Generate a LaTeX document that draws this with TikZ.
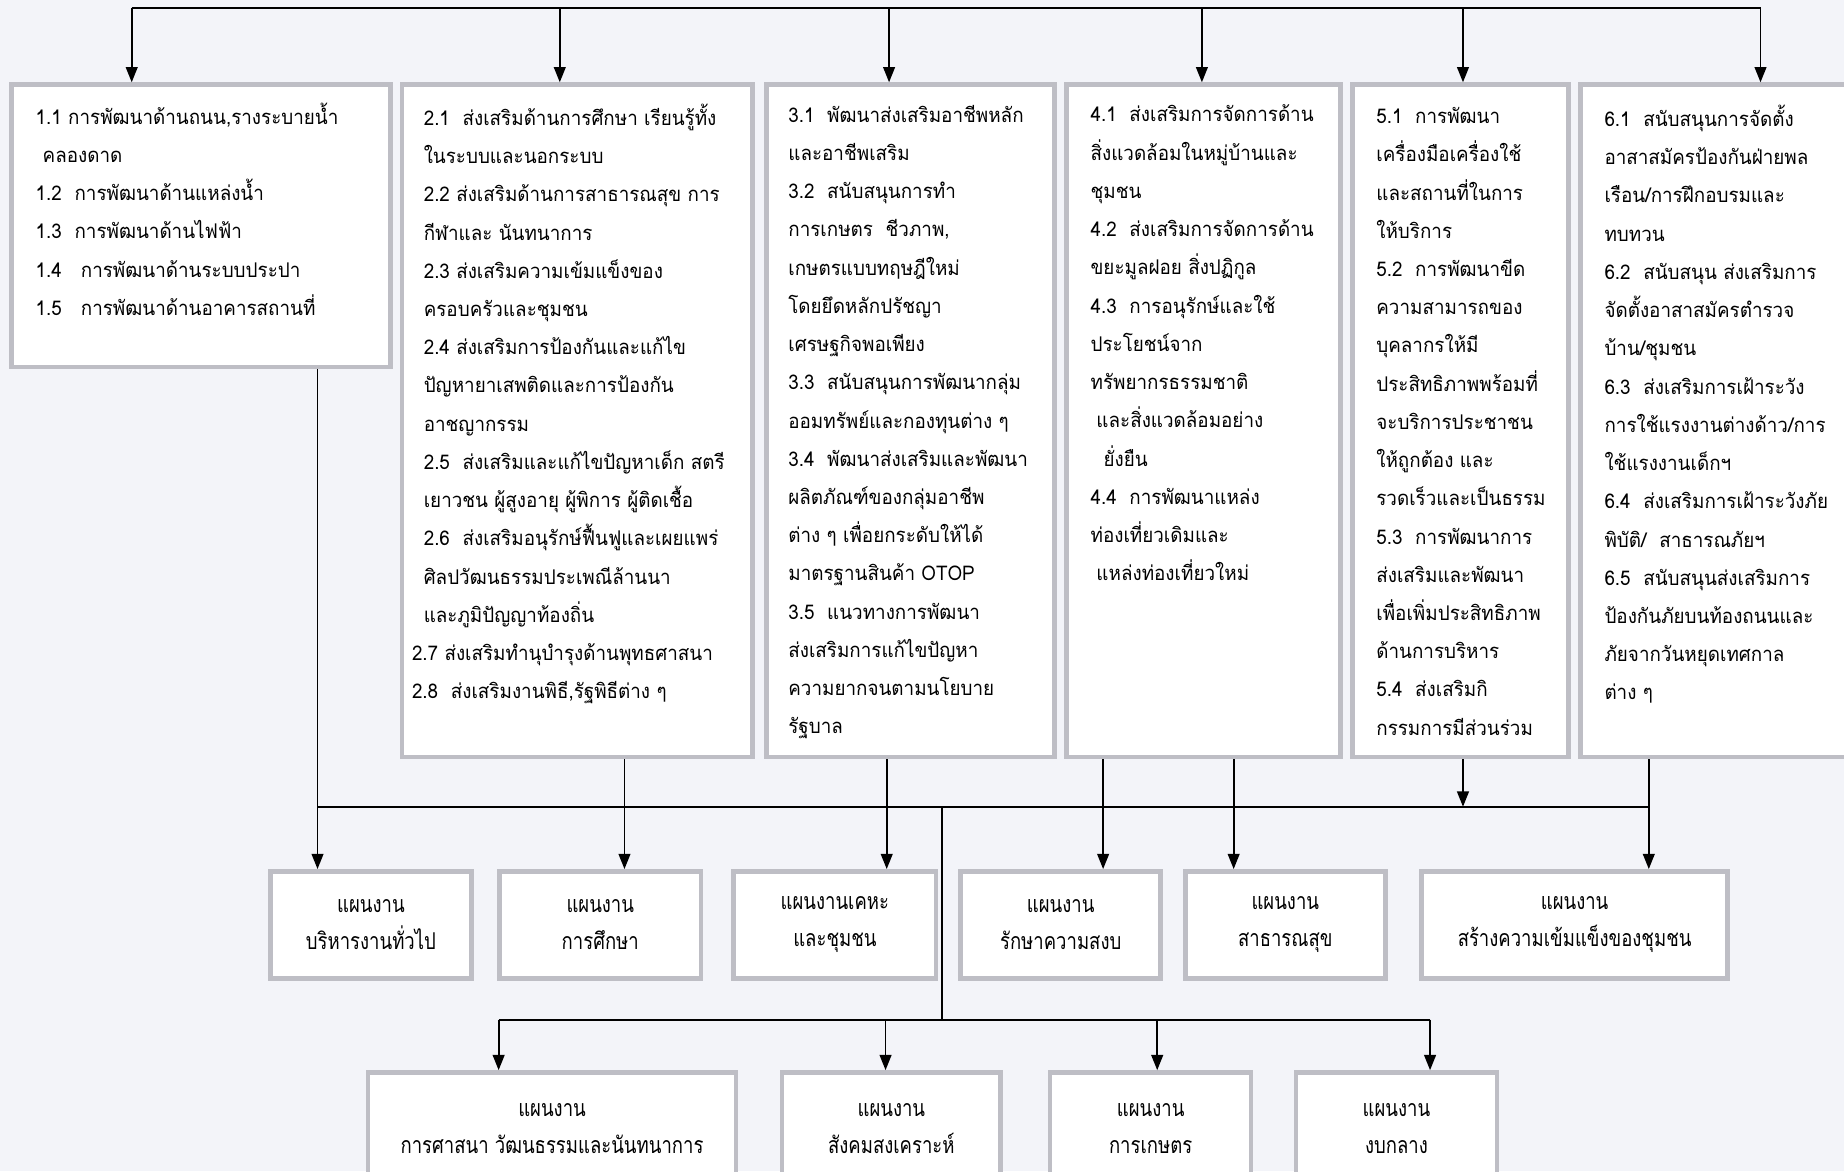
\documentclass[tikz,border=0pt]{standalone}
\usepackage{fontspec}
\usepackage{xcolor}
\usepackage{tikz}
\usetikzlibrary{arrows.meta,positioning,calc}
\newfontfamily\thaifont[Script=Thai,FakeStretch=0.93]{Loma}
\newfontfamily\planfont[Script=Thai,FakeStretch=0.8]{Loma}
\definecolor{paper}{RGB}{243,244,249}
\definecolor{frame}{RGB}{190,190,197}

\begin{document}
\begin{tikzpicture}[
    x=0.02cm, y=-0.02cm,
    >={Triangle[length=0.26cm,width=0.2cm]},
    conn/.style={draw=black, line width=0.9pt},
    panel/.style={rectangle, draw=frame, line width=2.2pt, fill=white,
                  anchor=north west, inner sep=0pt},
    items/.style={anchor=north west, align=left, inner sep=0pt,
                  font=\thaifont\fontsize{9.8pt}{18.5pt}\selectfont,
                  execute at begin node=\rule{0pt}{13pt}},
    plan/.style={rectangle, draw=frame, line width=2.2pt, fill=white,
                 anchor=north west, align=center, inner sep=0pt,
                 font=\planfont\fontsize{11.2pt}{18pt}\selectfont},
  ]
  \useasboundingbox (0,0) rectangle (1568,996);
  \clip (0,0) rectangle (1568,996);
  \fill[paper] (0,0) rectangle (1568,996);

  % Strategy panels
  \node[panel, minimum width=6.44cm, minimum height=4.8cm]   (p1) at (8,70) {};
  \node[panel, minimum width=5.96cm, minimum height=11.44cm] (p2) at (340,70) {};
  \node[panel, minimum width=4.9cm,  minimum height=11.44cm] (p3) at (650,70) {};
  \node[panel, minimum width=4.66cm, minimum height=11.44cm] (p4) at (905,70) {};
  \node[panel, minimum width=3.68cm, minimum height=11.44cm] (p5) at (1148,70) {};
  \node[panel, minimum width=4.76cm, minimum height=11.44cm] (p6) at (1342,70) {};

  % Panel texts
  \node[items] (i1) at ([shift={(22,17)}]p1.north west) {%
    1.1 การพัฒนาด้านถนน,รางระบายน้ำ\\
    \hspace*{0.12cm}คลองดาด\\
    1.2~ การพัฒนาด้านแหล่งน้ำ\\
    1.3~ การพัฒนาด้านไฟฟ้า\\
    1.4~~ การพัฒนาด้านระบบประปา\\
    1.5~~ การพัฒนาด้านอาคารสถานที่};
  \node[items] (i2) at ([shift={(10,18)}]p2.north west) {%
    \hspace*{0.2cm}2.1~ ส่งเสริมด้านการศึกษา เรียนรู้ทั้ง\\
    \hspace*{0.2cm}ในระบบและนอกระบบ\\
    \hspace*{0.2cm}2.2 ส่งเสริมด้านการสาธารณสุข การ\\
    \hspace*{0.2cm}กีฬาและ นันทนาการ\\
    \hspace*{0.2cm}2.3 ส่งเสริมความเข้มแข็งของ\\
    \hspace*{0.2cm}ครอบครัวและชุมชน\\
    \hspace*{0.2cm}2.4 ส่งเสริมการป้องกันและแก้ไข\\
    \hspace*{0.2cm}ปัญหายาเสพติดและการป้องกัน\\
    \hspace*{0.2cm}อาชญากรรม\\
    \hspace*{0.2cm}2.5~ ส่งเสริมและแก้ไขปัญหาเด็ก สตรี\\
    \hspace*{0.2cm}เยาวชน ผู้สูงอายุ ผู้พิการ ผู้ติดเชื้อ\\
    \hspace*{0.2cm}2.6~ ส่งเสริมอนุรักษ์ฟื้นฟูและเผยแพร่\\
    \hspace*{0.2cm}ศิลปวัฒนธรรมประเพณีล้านนา\\
    \hspace*{0.2cm}และภูมิปัญญาท้องถิ่น\\
    2.7 ส่งเสริมทำนุบำรุงด้านพุทธศาสนา\\
    2.8~ ส่งเสริมงานพิธี,รัฐพิธีต่าง ๆ};
  \node[items] (i3) at ([shift={(20,19)}]p3.north west) {%
    3.1~ พัฒนาส่งเสริมอาชีพหลัก\\
    และอาชีพเสริม\\
    3.2~ สนับสนุนการทำ\\
    การเกษตร~ ชีวภาพ,\\
    เกษตรแบบทฤษฎีใหม่\\
    โดยยึดหลักปรัชญา\\
    เศรษฐกิจพอเพียง\\
    3.3~ สนับสนุนการพัฒนากลุ่ม\\
    ออมทรัพย์และกองทุนต่าง ๆ\\
    3.4~ พัฒนาส่งเสริมและพัฒนา\\
    ผลิตภัณฑ์ของกลุ่มอาชีพ\\
    ต่าง ๆ เพื่อยกระดับให้ได้\\
    มาตรฐานสินค้า OTOP\\
    3.5~ แนวทางการพัฒนา\\
    ส่งเสริมการแก้ไขปัญหา\\
    ความยากจนตามนโยบาย\\
    รัฐบาล};
  \node[items] (i4) at ([shift={(22,19)}]p4.north west) {%
    4.1~ ส่งเสริมการจัดการด้าน\\
    สิ่งแวดล้อมในหมู่บ้านและ\\
    ชุมชน\\
    4.2~ ส่งเสริมการจัดการด้าน\\
    ขยะมูลฝอย สิ่งปฏิกูล\\
    4.3~ การอนุรักษ์และใช้\\
    ประโยชน์จาก\\
    ทรัพยากรธรรมชาติ\\
    \hspace*{0.1cm}และสิ่งแวดล้อมอย่าง\\
    \hspace*{0.22cm}ยั่งยืน\\
    4.4~ การพัฒนาแหล่ง\\
    ท่องเที่ยวเดิมและ\\
    \hspace*{0.1cm}แหล่งท่องเที่ยวใหม่};
  \node[items] (i5) at ([shift={(22,21)}]p5.north west) {%
    5.1~ การพัฒนา\\
    เครื่องมือเครื่องใช้\\
    และสถานที่ในการ\\
    ให้บริการ\\
    5.2~ การพัฒนาขีด\\
    ความสามารถของ\\
    บุคลากรให้มี\\
    ประสิทธิภาพพร้อมที่\\
    จะบริการประชาชน\\
    ให้ถูกต้อง และ\\
    รวดเร็วและเป็นธรรม\\
    5.3~ การพัฒนาการ\\
    ส่งเสริมและพัฒนา\\
    เพื่อเพิ่มประสิทธิภาพ\\
    ด้านการบริหาร\\
    5.4~ ส่งเสริมกิ\\
    กรรมการมีส่วนร่วม};
  \node[items] (i6) at ([shift={(22,19)}]p6.north west) {%
    6.1~ สนับสนุนการจัดตั้ง\\
    อาสาสมัครป้องกันฝ่ายพล\\
    เรือน/การฝึกอบรมและ\\
    ทบทวน\\
    6.2~ สนับสนุน ส่งเสริมการ\\
    จัดตั้งอาสาสมัครตำรวจ\\
    บ้าน/ชุมชน\\
    6.3~ ส่งเสริมการเฝ้าระวัง\\
    การใช้แรงงานต่างด้าว/การ\\
    ใช้แรงงานเด็กฯ\\
    6.4~ ส่งเสริมการเฝ้าระวังภัย\\
    พิบัติ/~ สาธารณภัยฯ\\
    6.5~ สนับสนุนส่งเสริมการ\\
    ป้องกันภัยบนท้องถนนและ\\
    ภัยจากวันหยุดเทศกาล\\
    ต่าง ๆ};

  % Work plans
  \node[plan, minimum width=3.42cm, minimum height=1.82cm] (w1) at (228,739) {แผนงาน\\บริหารงานทั่วไป};
  \node[plan, minimum width=3.42cm, minimum height=1.82cm] (w2) at (423,739) {แผนงาน\\การศึกษา};
  \node[plan, minimum width=3.44cm, minimum height=1.82cm] (w3) at (622,739) {แผนงานเคหะ\\และชุมชน};
  \node[plan, minimum width=3.4cm,  minimum height=1.82cm] (w4) at (815,739) {แผนงาน\\รักษาความสงบ};
  \node[plan, minimum width=3.4cm,  minimum height=1.82cm] (w5) at (1006,739) {แผนงาน\\สาธารณสุข};
  \node[plan, minimum width=5.2cm,  minimum height=1.82cm] (w6) at (1207,739) {แผนงาน\\สร้างความเข้มแข็งของชุมชน};

  \node[plan, minimum width=6.26cm, minimum height=1.9cm] (v1) at (311,910) {แผนงาน\\การศาสนา วัฒนธรรมและนันทนาการ};
  \node[plan, minimum width=3.72cm, minimum height=1.9cm] (v2) at (663,910) {แผนงาน\\สังคมสงเคราะห์};
  \node[plan, minimum width=3.42cm, minimum height=1.9cm] (v3) at (891,910) {แผนงาน\\การเกษตร};
  \node[plan, minimum width=3.42cm, minimum height=1.9cm] (v4) at (1100,910) {แผนงาน\\งบกลาง};

  % Top bus -> panels
  \coordinate (t1) at (112,7);
  \coordinate (t2) at (476,7);
  \coordinate (t3) at (756,7);
  \coordinate (t4) at (1022,7);
  \coordinate (t5) at (1244,7);
  \coordinate (t6) at (1497,7);
  \draw[conn] (t1) -- (t6);
  \foreach \i in {1,...,6}
    \draw[conn, ->] (t\i) -- (t\i |- p\i.north);

  % Panels -> middle bus -> work plans
  \coordinate (m1) at (270,686);
  \coordinate (m2) at (531,686);
  \coordinate (m3) at (754,686);
  \coordinate (m4) at (938,686);
  \coordinate (m5) at (1049,686);
  \coordinate (m6) at (1244,686);
  \coordinate (m7) at (1402,686);
  \coordinate (mc) at (801,686);
  \draw[conn] (m1) -- (m7);
  \foreach \m/\p/\w in {m1/p1/w1, m2/p2/w2, m3/p3/w3, m4/p4/w4, m5/p4/w5, m7/p6/w6}
    \draw[conn, ->] (\m |- \p.south) -- (\m |- \w.north);
  \draw[conn, ->] (m6 |- p5.south) -- (m6);

  % Lower bus
  \coordinate (lc) at (801,867);
  \coordinate (n1) at (424,867);
  \coordinate (n2) at (753,867);
  \coordinate (n3) at (984,867);
  \coordinate (n4) at (1216,867);
  \draw[conn] (mc) -- (lc);
  \draw[conn] (n1) -- (n4);
  \foreach \i in {1,...,4}
    \draw[conn, ->] (n\i) -- (n\i |- v\i.north);
\end{tikzpicture}
\end{document}
